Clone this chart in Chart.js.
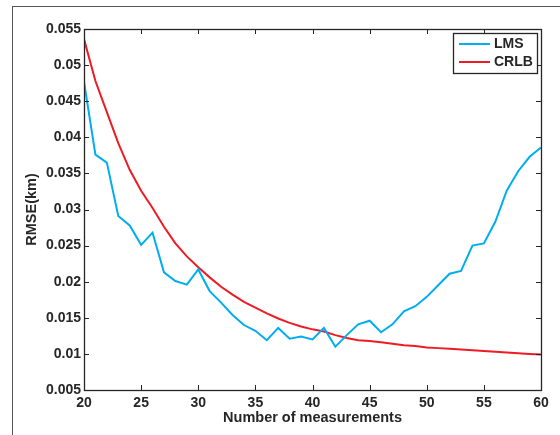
<!DOCTYPE html>
<html>
<head>
<meta charset="utf-8">
<script src="https://cdn.jsdelivr.net/npm/chart.js@4.4.1/dist/chart.umd.min.js"></script>
<style>
  html, body { margin: 0; padding: 0; background: #fff; }
  #wrap { position: relative; width: 560px; height: 435px; }
  #frame { position: absolute; left: 12px; top: 6px; right: 0; bottom: 0; border-top: 1.5px solid #555; border-left: 1.5px solid #555; pointer-events: none; }
</style>
</head>
<body>
<div id="wrap">
  <canvas id="rmseChart" width="560" height="435"></canvas>
  <div id="frame"></div>
</div>
<script>
// number of measurements (x axis)
const measurements = [20, 21, 22, 23, 24, 25, 26, 27, 28, 29, 30, 31, 32, 33, 34, 35, 36, 37, 38, 39, 40,
                      41, 42, 43, 44, 45, 46, 47, 48, 49, 50, 51, 52, 53, 54, 55, 56, 57, 58, 59, 60];

// RMSE (km)
const lmsValues = [0.0477, 0.0376, 0.0365, 0.0291, 0.0278, 0.0251, 0.0268, 0.0213, 0.0201, 0.0196, 0.0217,
                   0.0187, 0.0171, 0.0154, 0.0140, 0.0132, 0.0119, 0.0136, 0.0121, 0.0124, 0.0120,
                   0.0136, 0.0110, 0.0126, 0.0141, 0.0146, 0.0130, 0.0141, 0.0159, 0.0166, 0.0179,
                   0.0195, 0.0211, 0.0215, 0.0250, 0.0253, 0.0283, 0.0326, 0.0353, 0.0373, 0.0386];

const crlbValues = [0.0536, 0.0478, 0.0435, 0.0392, 0.0355, 0.0326, 0.0302, 0.0276, 0.0253, 0.0235, 0.0220,
                    0.0206, 0.0193, 0.0182, 0.0172, 0.0164, 0.0156, 0.0149, 0.0143, 0.0138, 0.0134,
                    0.0131, 0.0126, 0.0122, 0.0119, 0.0118, 0.0116, 0.0114, 0.0112, 0.0111, 0.0109,
                    0.0108, 0.0107, 0.0106, 0.0105, 0.0104, 0.0103, 0.0102, 0.0101, 0.0100, 0.0099];

const xTicks = [20, 25, 30, 35, 40, 45, 50, 55, 60];
const yTicks = [0.005, 0.01, 0.015, 0.02, 0.025, 0.03, 0.035, 0.04, 0.045, 0.05, 0.055];
const yTickLabels = ['0.005', '0.01', '0.015', '0.02', '0.025', '0.03', '0.035', '0.04', '0.045', '0.05', '0.055'];

const FONT = { family: '"Liberation Sans", Arial, Helvetica, sans-serif', size: 14, weight: 'bold' };
const TITLE_FONT = { family: FONT.family, size: 14.5, weight: 'bold' };
const INK = '#262626';

// MATLAB style: frame + inward tick marks on all four sides
const matlabAxes = {
    id: 'matlabAxes',
    afterDatasetsDraw(chart) {
        const { ctx, chartArea: a, scales } = chart;
        ctx.save();
        ctx.strokeStyle = INK;
        ctx.lineWidth = 1;
        const len = 5;
        xTicks.forEach(v => {
            const px = Math.round(scales.x.getPixelForValue(v)) + 0.5;
            ctx.beginPath();
            ctx.moveTo(px, a.bottom); ctx.lineTo(px, a.bottom - len);
            ctx.moveTo(px, a.top); ctx.lineTo(px, a.top + len);
            ctx.stroke();
        });
        yTicks.forEach(v => {
            const py = Math.round(scales.y.getPixelForValue(v)) + 0.5;
            ctx.beginPath();
            ctx.moveTo(a.left, py); ctx.lineTo(a.left + len, py);
            ctx.moveTo(a.right, py); ctx.lineTo(a.right - len, py);
            ctx.stroke();
        });
        ctx.lineWidth = 1.3;
        ctx.strokeRect(Math.round(a.left) + 0.5, Math.round(a.top) + 0.5,
                       Math.round(a.right - a.left), Math.round(a.bottom - a.top));

        // legend box in the upper right corner
        const bx = a.right - 88, by = a.top + 4, bw = 84, bh = 40;
        ctx.fillStyle = '#fff';
        ctx.fillRect(bx, by, bw, bh);
        ctx.strokeStyle = INK;
        ctx.lineWidth = 1.3;
        ctx.strokeRect(bx + 0.5, by + 0.5, bw, bh);
        ctx.font = `${FONT.weight} ${FONT.size}px ${FONT.family}`;
        ctx.textBaseline = 'middle';
        chart.data.datasets.forEach((ds, i) => {
            const ly = by + 11 + i * 18;
            ctx.strokeStyle = ds.borderColor;
            ctx.lineWidth = 2;
            ctx.beginPath();
            ctx.moveTo(bx + 6, ly); ctx.lineTo(bx + 37, ly);
            ctx.stroke();
            ctx.fillStyle = INK;
            ctx.fillText(ds.label, bx + 41, ly + 0.5);
        });
        ctx.restore();
    }
};

new Chart(document.getElementById('rmseChart'), {
    type: 'line',
    data: {
        datasets: [
            {
                label: 'LMS',
                data: measurements.map((m, i) => ({ x: m, y: lmsValues[i] })),
                borderColor: '#00AEEF',
                borderWidth: 2,
                pointRadius: 0,
                tension: 0,
                fill: false
            },
            {
                label: 'CRLB',
                data: measurements.map((m, i) => ({ x: m, y: crlbValues[i] })),
                borderColor: '#ED1C24',
                borderWidth: 2,
                pointRadius: 0,
                tension: 0,
                fill: false
            }
        ]
    },
    options: {
        responsive: false,
        animation: false,
        layout: { padding: { top: 29, right: 19, left: 0, bottom: 0 } },
        plugins: { legend: { display: false }, tooltip: { enabled: false } },
        scales: {
            x: {
                type: 'linear',
                min: 20,
                max: 60,
                afterBuildTicks: s => { s.ticks = xTicks.map(v => ({ value: v })); },
                afterFit: s => { s.height = 45; },
                grid: { display: false, drawTicks: false },
                border: { display: false },
                ticks: { color: INK, font: FONT, padding: 5, maxRotation: 0, autoSkip: false },
                title: { display: true, text: 'Number of measurements', color: INK, font: TITLE_FONT, padding: { bottom: 8 } }
            },
            y: {
                type: 'linear',
                min: 0.005,
                max: 0.055,
                afterBuildTicks: s => { s.ticks = yTicks.map(v => ({ value: v })); },
                afterFit: s => { s.width = 84; },
                grid: { display: false, drawTicks: false },
                border: { display: false },
                ticks: {
                    color: INK, font: FONT, padding: 3, autoSkip: false,
                    callback: (v, i) => yTickLabels[i]
                },
                title: { display: true, text: 'RMSE(km)', color: INK, font: TITLE_FONT, padding: { top: 23 } }
            }
        }
    },
    plugins: [matlabAxes]
});
</script>
</body>
</html>
